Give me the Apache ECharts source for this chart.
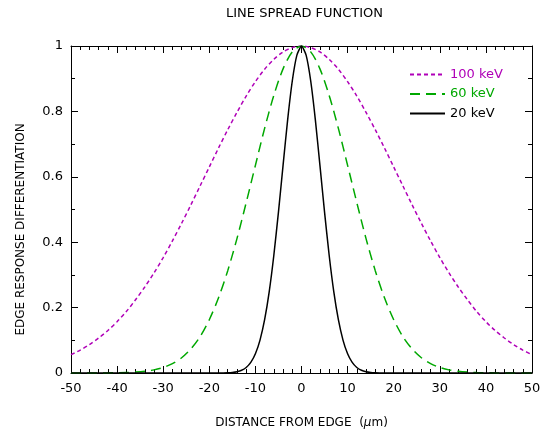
<!DOCTYPE html>
<html>
<head>
<meta charset="utf-8">
<script src="https://cdn.jsdelivr.net/npm/echarts@6/dist/echarts.min.js"></script>
<style>html,body{margin:0;padding:0;background:#fff}#c{width:544px;height:434px}</style>
</head>
<body>
<div id="c"></div>
<script>
// x positions (micrometres)
var xWide = [-50,-48,-46,-44,-42,-40,-38,-36,-34,-32,-30,-28,-26,-24,-22,-20,-18,-16,-14,-12,-10,-8,-6,-4,-2,0,2,4,6,8,10,12,14,16,18,20,22,24,26,28,30,32,34,36,38,40,42,44,46,48,50];
var xFine = [-50,-20,-19,-18,-17,-16,-15,-14,-13,-12,-11,-10,-9,-8,-7,-6,-5,-4,-3,-2,-1,0,1,2,3,4,5,6,7,8,9,10,11,12,13,14,15,16,17,18,19,20,50];
// 100 keV (values at xWide)
var kev100 = [0.056,0.070,0.087,0.107,0.130,0.157,0.188,0.224,0.263,0.306,0.353,0.404,0.458,0.514,0.572,0.630,0.688,0.744,0.797,0.847,0.891,0.929,0.959,0.982,0.995,1.000,0.995,0.982,0.959,0.929,0.891,0.847,0.797,0.744,0.688,0.630,0.572,0.514,0.458,0.404,0.353,0.306,0.263,0.224,0.188,0.157,0.130,0.107,0.087,0.070,0.056];
// 60 keV (values at xWide)
var kev60 = [0,0,0,0.0001,0.0003,0.0007,0.0014,0.0028,0.0053,0.0096,0.0169,0.0286,0.0466,0.0734,0.111,0.163,0.230,0.313,0.411,0.521,0.635,0.748,0.849,0.930,0.982,1.000,0.982,0.930,0.849,0.748,0.635,0.521,0.411,0.313,0.230,0.163,0.111,0.0734,0.0466,0.0286,0.0169,0.0096,0.0053,0.0028,0.0014,0.0007,0.0003,0.0001,0,0,0];
// 20 keV (values at xFine)
var kev20 = [0,0,0,0.0001,0.0003,0.0007,0.0017,0.0039,0.0083,0.0169,0.0324,0.0587,0.1007,0.163,0.249,0.360,0.492,0.635,0.775,0.893,0.972,1.000,0.972,0.893,0.775,0.635,0.492,0.360,0.249,0.163,0.1007,0.0587,0.0324,0.0169,0.0083,0.0039,0.0017,0.0007,0.0003,0.0001,0,0,0];
var seriesNames = ['100 keV','60 keV','20 keV'];
var xTicks = [-50,-40,-30,-20,-10,0,10,20,30,40,50];
var yTicks = [0,0.2,0.4,0.6,0.8,1];

function pairs(xs, ys){ return xs.map(function(x,i){ return [x, ys[i]]; }); }

var FONT = 'DejaVu Sans';
var cMag = '#b000b8', cGrn = '#00a800', cBlk = '#000000';

function ax(extra){
  var base = {
    axisLine:{show:true, onZero:false, lineStyle:{color:'#000', width:1}},
    axisTick:{show:true, inside:true, length:7, lineStyle:{color:'#000', width:1}},
    splitLine:{show:false}
  };
  return Object.assign(base, extra);
}

var chart = echarts.init(document.getElementById('c'), null, {renderer:'canvas'});
chart.setOption({
  animation:false,
  backgroundColor:'#fff',
  textStyle:{fontFamily:FONT},
  title:{text:'LINE SPREAD FUNCTION', left:221, top:2,
    textStyle:{fontFamily:FONT, fontSize:13, fontWeight:'normal', color:'#000'}},
  grid:{left:71, right:12, top:46, bottom:61, containLabel:false},
  legend:{
    orient:'vertical', left:404, top:63, itemWidth:35, itemHeight:12, itemGap:6.5,
    itemStyle:{opacity:0},
    textStyle:{fontFamily:FONT, fontSize:13},
    data:[
      {name:seriesNames[0], textStyle:{color:cMag}},
      {name:seriesNames[1], textStyle:{color:cGrn}},
      {name:seriesNames[2], textStyle:{color:cBlk}}
    ]
  },
  xAxis:[
    ax({type:'value', position:'bottom', min:xTicks[0], max:xTicks[xTicks.length-1], interval:10,
      minorTick:{show:true, splitNumber:5, length:4, lineStyle:{color:'#000'}},
      axisLabel:{show:true, margin:9, fontFamily:FONT, fontSize:13, color:'#000'},
      name:'DISTANCE FROM EDGE  ({i|μ}m)', nameLocation:'middle', nameGap:44,
      nameTextStyle:{fontFamily:FONT, fontSize:12, color:'#000', rich:{i:{fontStyle:'italic', fontFamily:FONT, fontSize:12, color:'#000'}}}}),
    ax({type:'value', position:'top', min:-50, max:50, interval:10,
      minorTick:{show:true, splitNumber:5, length:4, lineStyle:{color:'#000'}},
      axisLabel:{show:false}})
  ],
  yAxis:[
    ax({type:'value', position:'left', min:yTicks[0], max:yTicks[yTicks.length-1], interval:0.2,
      minorTick:{show:true, splitNumber:2, length:4, lineStyle:{color:'#000'}},
      axisLabel:{show:true, margin:8, fontFamily:FONT, fontSize:13, color:'#000'},
      name:'EDGE RESPONSE DIFFERENTIATION', nameLocation:'middle', nameGap:44,
      nameTextStyle:{fontFamily:FONT, fontSize:12, color:'#000', padding:[0,40,0,0]}}),
    ax({type:'value', position:'right', min:0, max:1, interval:0.2,
      minorTick:{show:true, splitNumber:2, length:4, lineStyle:{color:'#000'}},
      axisLabel:{show:false}})
  ],
  series:[
    {name:seriesNames[0], type:'line', data:pairs(xWide, kev100), showSymbol:false, symbol:'none', smooth:0.3,
      color:cMag, lineStyle:{color:cMag, width:1.5, type:[4,3]}},
    {name:seriesNames[1], type:'line', data:pairs(xWide, kev60), showSymbol:false, symbol:'none', smooth:0.3,
      color:cGrn, lineStyle:{color:cGrn, width:1.5, type:[10,6]}},
    {name:seriesNames[2], type:'line', data:pairs(xFine, kev20), showSymbol:false, symbol:'none', smooth:0.2,
      color:cBlk, lineStyle:{color:cBlk, width:1.5, type:'solid'}}
  ]
});
</script>
</body>
</html>
